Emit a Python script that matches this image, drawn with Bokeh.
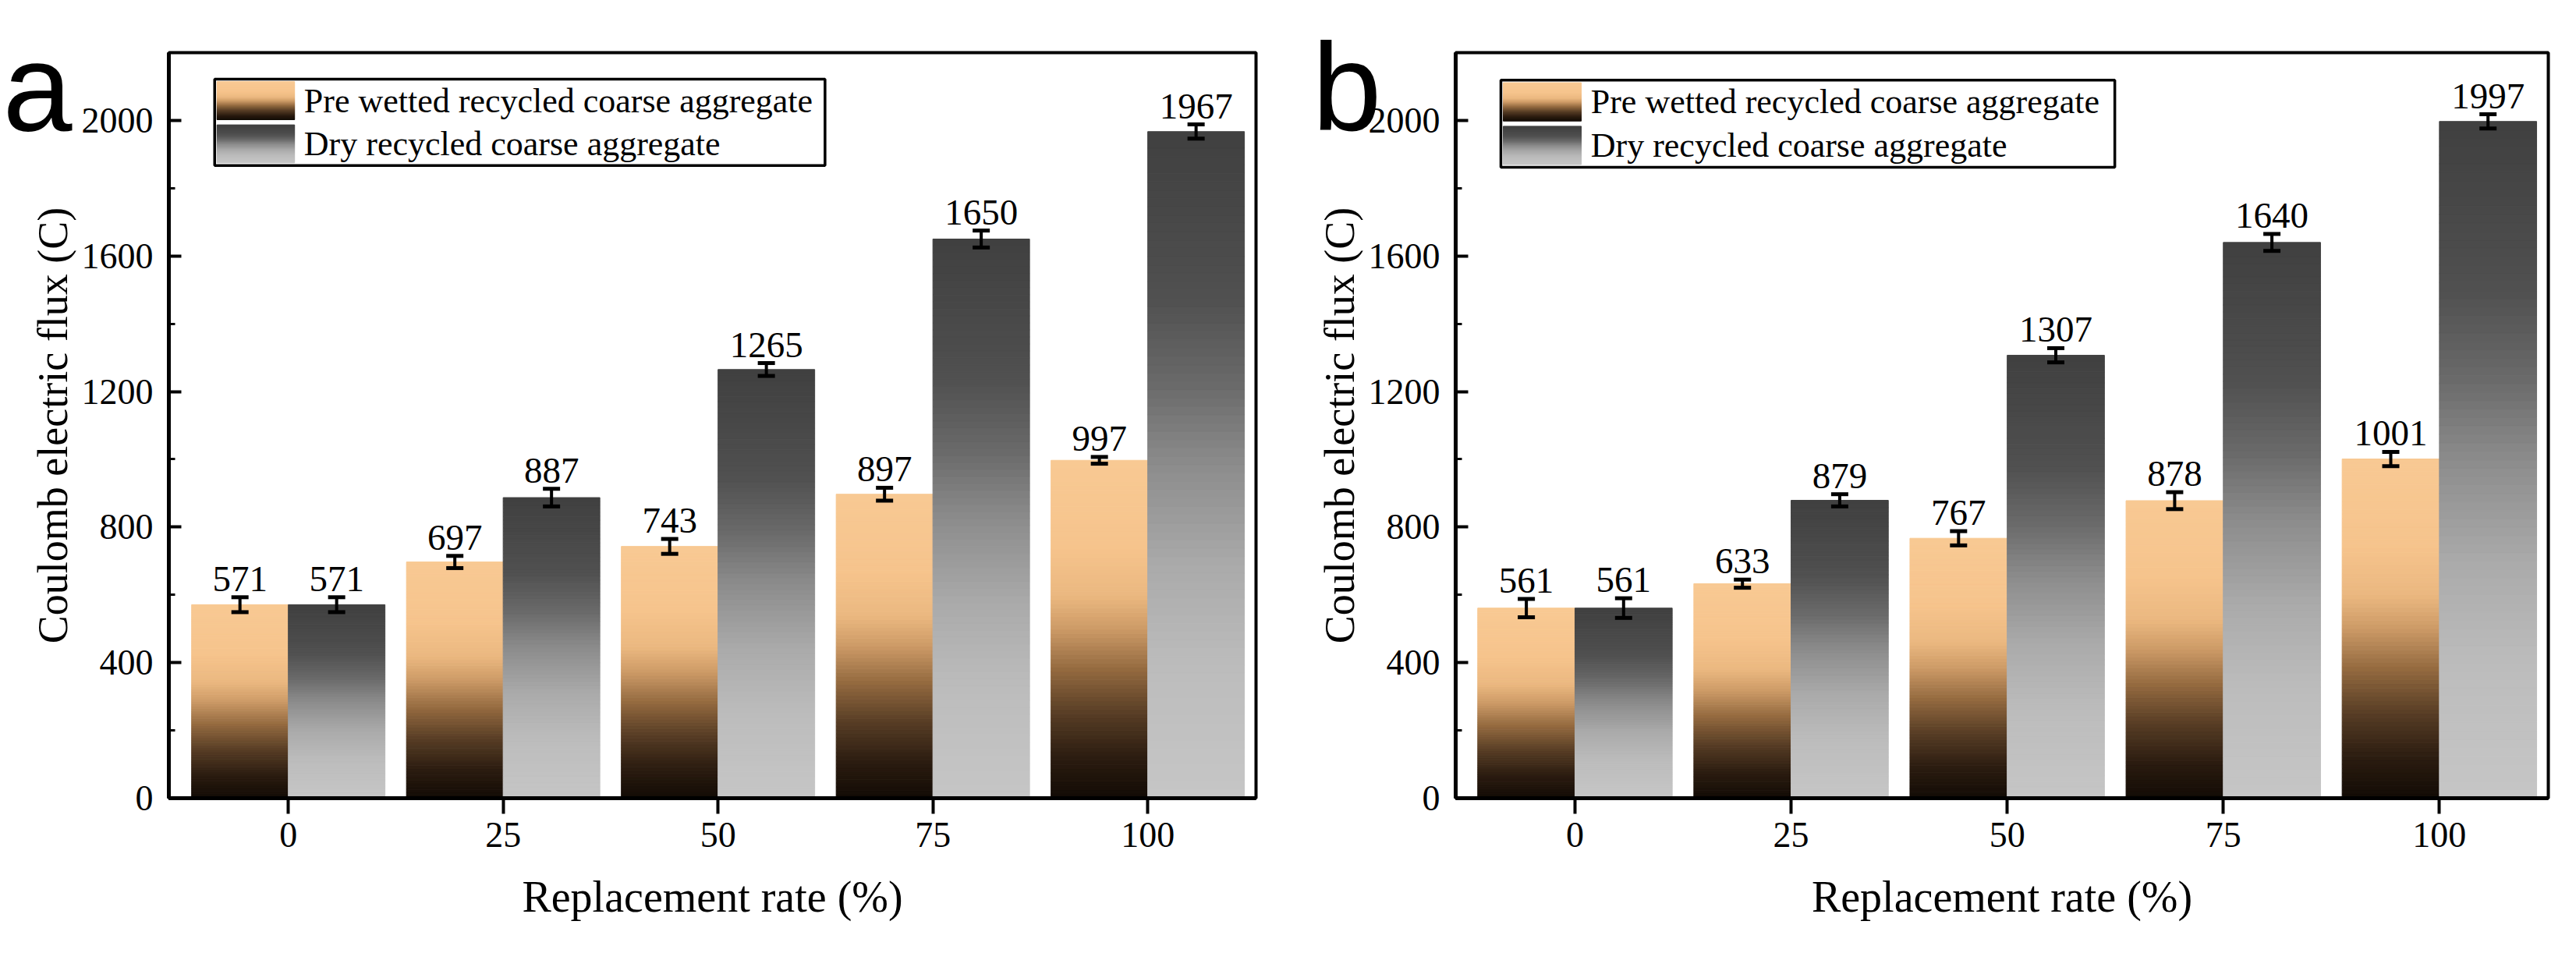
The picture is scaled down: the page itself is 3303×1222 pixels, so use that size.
import numpy as np
from bokeh.plotting import figure
from bokeh.models import (ColumnDataSource, FixedTicker, Whisker, TeeHead,
                          LabelSet, Range1d, LinearAxis)
from bokeh.layouts import row
from bokeh.embed import file_html
from bokeh.resources import INLINE
from bokeh.core.properties import value

# ---------------- data ----------------
rates = [0, 25, 50, 75, 100]
series_names = ["Pre wetted recycled coarse aggregate", "Dry recycled coarse aggregate"]

a_pre = [571, 697, 743, 897, 997]
a_pre_err = [22, 18, 22, 19, 10]
a_dry = [571, 887, 1265, 1650, 1967]
a_dry_err = [22, 26, 19, 25, 21]

b_pre = [561, 633, 767, 878, 1001]
b_pre_err = [27, 12, 21, 25, 21]
b_dry = [561, 879, 1307, 1640, 1997]
b_dry_err = [29, 18, 21, 25, 21]

y_ticks = [0, 400, 800, 1200, 1600, 2000]
y_minor = [200, 600, 1000, 1400, 1800]
x_label = "Replacement rate (%)"
y_label = "Coulomb electric flux (C)"

# ---------------- style ----------------
SERIF = "Liberation Serif"
SANS = "Liberation Sans"
BW = 11.25  # bar width in x units
ORANGE_STOPS = [(0.0, "#120b05"), (0.12, "#2b1c10"), (0.25, "#573d25"), (0.38, "#93693f"),
                (0.5, "#cc9a66"), (0.6, "#ebb880"), (0.75, "#f6c48d"), (1.0, "#f8c993")]
GREY_STOPS = [(0.0, "#c6c6c6"), (0.2, "#bcbcbc"), (0.35, "#aaaaaa"), (0.5, "#8c8c8c"),
              (0.62, "#6a6a6a"), (0.75, "#505050"), (0.9, "#464646"), (1.0, "#404040")]
NSTRIP = 80
LETTER_POS = 0.999  # top of the letter axis' own 0..1 range


def hex2rgb(h):
    h = h.lstrip("#")
    return np.array([int(h[i:i + 2], 16) for i in (0, 2, 4)], dtype=float)


def grad_color(stops, f):
    fs = [s[0] for s in stops]
    cs = [hex2rgb(s[1]) for s in stops]
    for k in range(len(fs) - 1):
        if fs[k] <= f <= fs[k + 1]:
            t = (f - fs[k]) / (fs[k + 1] - fs[k])
            c = cs[k] * (1 - t) + cs[k + 1] * t
            return "#%02x%02x%02x" % tuple(int(round(v)) for v in c)
    return stops[-1][1]


def add_strips(store, xl, xr, y0, y1, stops):
    for i in range(NSTRIP):
        f = (i + 0.5) / NSTRIP
        store["left"].append(xl)
        store["right"].append(xr)
        store["bottom"].append(y0 + (y1 - y0) * i / NSTRIP)
        store["top"].append(y0 + (y1 - y0) * (i + 1) / NSTRIP)
        store["color"].append(grad_color(stops, f))


def make_panel(pre, pre_err, dry, dry_err, letter, borders, xr, legend_box, letter_standoff):
    bl, br, bt, bb = borders
    p = figure(width=1643, height=1210, output_backend="svg", toolbar_location=None,
               x_range=Range1d(*xr), y_range=Range1d(0, 2200),
               min_border_left=bl, min_border_right=br, min_border_top=bt, min_border_bottom=bb,
               background_fill_color="white", border_fill_color="white")
    p.xgrid.visible = False
    p.ygrid.visible = False
    p.outline_line_color = "black"
    p.outline_line_width = 4

    # axes
    p.xaxis.ticker = FixedTicker(ticks=rates)
    p.yaxis.ticker = FixedTicker(ticks=y_ticks, minor_ticks=y_minor)
    for ax in (p.xaxis[0], p.yaxis[0]):
        ax.axis_line_width = 5
        ax.axis_line_color = "black"
        ax.major_tick_line_color = "black"
        ax.major_tick_line_width = 4
        ax.minor_tick_line_color = "black"
        ax.minor_tick_line_width = 3
        ax.major_label_text_font = SERIF
        ax.major_label_text_font_size = "46px"
        ax.major_label_text_color = "black"
        ax.axis_label_text_font = SERIF
        ax.axis_label_text_font_style = "normal"
        ax.axis_label_text_color = "black"
    p.xaxis.major_tick_out = 20
    p.xaxis.major_tick_in = 0
    p.xaxis.minor_tick_out = 0
    p.xaxis.minor_tick_in = 0
    p.xaxis.major_label_standoff = 11
    p.xaxis.axis_label = x_label
    p.xaxis.axis_label_text_font_size = "56px"
    p.xaxis.axis_label_standoff = 30
    p.yaxis.major_tick_out = 0
    p.yaxis.major_tick_in = 16
    p.yaxis.minor_tick_out = 0
    p.yaxis.minor_tick_in = 8
    p.yaxis.major_label_standoff = 20
    p.yaxis.axis_label = y_label
    p.yaxis.axis_label_text_font_size = "54px"
    p.yaxis.axis_label_standoff = 4

    # panel letter, as the only label of an outer, line-less axis
    p.extra_y_ranges = {"letter": Range1d(0, 1)}
    lax = LinearAxis(y_range_name="letter",
                     ticker=FixedTicker(ticks=[LETTER_POS], minor_ticks=[]),
                     major_label_overrides={LETTER_POS: letter},
                     axis_line_color=None, major_tick_line_color=None,
                     minor_tick_line_color=None, major_tick_in=0, major_tick_out=0,
                     minor_tick_in=0, minor_tick_out=0,
                     major_label_standoff=letter_standoff,
                     major_label_text_font=SANS, major_label_text_font_size="160px",
                     major_label_text_color="black")
    p.add_layout(lax, "left")

    # gradient bars
    st = {"left": [], "right": [], "bottom": [], "top": [], "color": []}
    for r, v in zip(rates, pre):
        add_strips(st, r - BW, r, 0, v, ORANGE_STOPS)
    for r, v in zip(rates, dry):
        add_strips(st, r, r + BW, 0, v, GREY_STOPS)
    p.quad(left="left", right="right", bottom="bottom", top="top", fill_color="color",
           line_color="color", line_width=1, source=ColumnDataSource(st))

    # error bars + value labels
    xs = [r - BW / 2 for r in rates] + [r + BW / 2 for r in rates]
    vals = list(pre) + list(dry)
    errs = list(pre_err) + list(dry_err)
    esrc = ColumnDataSource(dict(
        x=xs,
        upper=[v + e for v, e in zip(vals, errs)],
        lower=[v - e for v, e in zip(vals, errs)],
        label=[str(v) for v in vals]))
    w = Whisker(base="x", upper="upper", lower="lower", source=esrc, line_width=4,
                line_color="black", level="annotation",
                upper_head=TeeHead(size=22, line_width=5, line_color="black"),
                lower_head=TeeHead(size=22, line_width=5, line_color="black"))
    p.add_layout(w)
    p.add_layout(LabelSet(x="x", y="upper", text="label", source=esrc, y_offset=8,
                          text_align="center", text_baseline="bottom", text_font=SERIF,
                          text_font_size="47px", text_color="black"))

    # legend (drawn with gradient swatches)
    L, R, B, T = legend_box
    p.quad(left=[L], right=[R], bottom=[B], top=[T], fill_color="white",
           line_color="black", line_width=3.5)
    lst = {"left": [], "right": [], "bottom": [], "top": [], "color": []}
    sw_l, sw_r = L + 0.27, L + 9.3
    h = (T - B)
    y_a1, y_a0 = T - 0.03 * h, T - 0.47 * h
    y_b1, y_b0 = T - 0.53 * h, T - 0.97 * h
    add_strips(lst, sw_l, sw_r, y_a0, y_a1, ORANGE_STOPS)
    add_strips(lst, sw_l, sw_r, y_b0, y_b1, GREY_STOPS)
    p.quad(left="left", right="right", bottom="bottom", top="top", fill_color="color",
           line_color="color", line_width=1, source=ColumnDataSource(lst))
    p.text(x=[sw_r + 1.1, sw_r + 1.1], y=[(y_a0 + y_a1) / 2, (y_b0 + y_b1) / 2],
           text=series_names, text_font=value(SERIF), text_font_size="44px",
           text_baseline="middle", text_align="left", text_color="black")
    return p


pa = make_panel(a_pre, a_pre_err, a_dry, a_dry_err, "a",
                borders=(208, 33, 67, 185), xr=(-13.9, 112.6),
                legend_box=(-8.57, 62.45, 1867, 2122), letter_standoff=-58)
pb = make_panel(b_pre, b_pre_err, b_dry, b_dry_err, "b",
                borders=(223, 19, 64, 187), xr=(-13.8, 112.6),
                legend_box=(-8.57, 62.45, 1862, 2119), letter_standoff=-87)

layout = row(pa, pb)
open("out.html", "w").write(file_html(layout, INLINE))
